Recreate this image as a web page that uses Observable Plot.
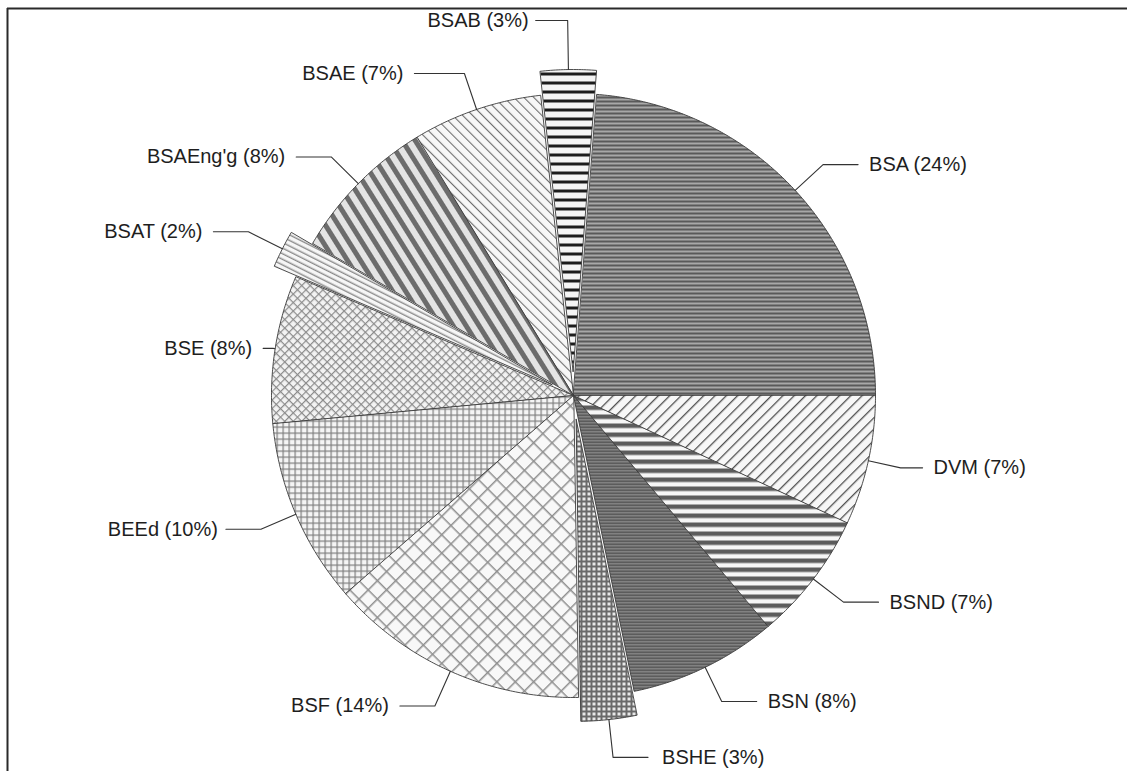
<!DOCTYPE html>
<html>
<head>
<meta charset="utf-8">
<script src="https://cdn.jsdelivr.net/npm/d3@7"></script>
<script src="https://cdn.jsdelivr.net/npm/@observablehq/plot@0.6"></script>
<style>
  html, body { margin: 0; padding: 0; background: #fff; }
  #chart svg { display: block; }
</style>
</head>
<body>
<div id="chart"></div>
<script>
// Degree programs and their share of enrollees (%), in drawing order
const programs = ["BSA", "BSAB", "BSAE", "BSAEng'g", "BSAT", "BSE", "BEEd", "BSF", "BSHE", "BSN", "BSND", "DVM"];
const shares   = [24, 3, 7, 8, 2, 8, 10, 14, 3, 8, 7, 7];
// Slices pulled out of the pie
const exploded = ["BSAB", "BSAT", "BSHE"];

// ---- layout ----
const W = 1127, H = 771;
const cx = 573, cy = 395, R = 302;   // pie centre and radius (px)
const pull = 24;                      // offset of exploded slices
const bend = 38;                      // radial length of leader lines
const tail = 35;                      // horizontal run of leader lines
const gap = 11;                       // space between leader and label
const bendOverride = {"BSAB": 49, "BSE": 2, "DVM": 33};
const tailOverride = {"BSE": 10, "DVM": 22, "BSAE": 50, "BSAB": 32};
const gapOverride = {"BSAB": 7, "BSHE": 14, "BEEd": 8};

// fill pattern for each program
const patternOf = {
  "BSA": "p-bsa", "BSAB": "p-bsab", "BSAE": "p-bsae", "BSAEng'g": "p-bsaeng",
  "BSAT": "p-bsat", "BSE": "p-bse", "BEEd": "p-beed", "BSF": "p-bsf",
  "BSHE": "p-bshe", "BSN": "p-bsn", "BSND": "p-bsnd", "DVM": "p-dvm"
};

// angle in degrees, clockwise from 12 o'clock -> page coordinates
const polar = (ox, oy, r, deg) => {
  const a = deg * Math.PI / 180;
  return [ox + r * Math.sin(a), oy - r * Math.cos(a)];
};

// pie runs counter-clockwise starting at 3 o'clock
const total = d3.sum(shares);
const ends = d3.cumsum(shares);
const slices = programs.map((name, i) => {
  const a0 = 90 - (ends[i] - shares[i]) / total * 360;
  const a1 = 90 - ends[i] / total * 360;
  const mid = (a0 + a1) / 2;
  const [ox, oy] = exploded.includes(name) ? polar(cx, cy, pull, mid) : [cx, cy];
  return {name, share: shares[i], a0, a1, mid, ox, oy};
});

// outline points of each wedge
const wedgePts = [];
for (const s of slices) {
  wedgePts.push({name: s.name, pat: `url(#${patternOf[s.name]})`, x: s.ox, y: s.oy});
  const n = Math.max(2, Math.ceil((s.a0 - s.a1) / 0.5));
  for (let k = 0; k <= n; ++k) {
    const [x, y] = polar(s.ox, s.oy, R, s.a0 - (s.a0 - s.a1) * k / n);
    wedgePts.push({name: s.name, pat: `url(#${patternOf[s.name]})`, x, y});
  }
}

// leader lines and label anchors
const leaderPts = [];
const labels = [];
for (const s of slices) {
  const side = Math.sin(s.mid * Math.PI / 180) >= 0 ? 1 : -1;
  const b = bendOverride[s.name] ?? bend;
  const t = tailOverride[s.name] ?? tail;
  const g = gapOverride[s.name] ?? gap;
  const [x0, y0] = polar(s.ox, s.oy, R, s.mid);
  const [x1, y1] = polar(s.ox, s.oy, R + b, s.mid);
  const x2 = x1 + side * t;
  leaderPts.push({name: s.name, x: x0, y: y0}, {name: s.name, x: x1, y: y1}, {name: s.name, x: x2, y: y1});
  labels.push({text: `${s.name} (${s.share}%)`, x: x2 + side * g, y: y1, side});
}

const font = "'Liberation Sans', Arial, Helvetica, sans-serif";

const svg = Plot.plot({
  width: W,
  height: H,
  margin: 0,
  x: {domain: [0, W], range: [0, W], axis: null},
  y: {domain: [0, H], range: [0, H], axis: null},
  color: {type: "identity"},
  style: {fontFamily: font, background: "#fff"},
  marks: [
    // frame
    Plot.ruleY([8], {x1: 7, x2: W, stroke: "#2a2a2a", strokeWidth: 2}),
    Plot.ruleX([7], {y1: 8, y2: H, stroke: "#2a2a2a", strokeWidth: 2}),
    // wedges
    Plot.line(wedgePts, {x: "x", y: "y", z: "name", fill: "pat", stroke: "#3a3a3a",
      strokeWidth: 0.9, curve: "linear-closed"}),
    // leaders
    Plot.line(leaderPts, {x: "x", y: "y", z: "name", stroke: "#333", strokeWidth: 1.1}),
    // labels
    Plot.text(labels.filter(d => d.side > 0), {x: "x", y: "y", text: "text", textAnchor: "start",
      fontSize: 20, fill: "#1e1e1e"}),
    Plot.text(labels.filter(d => d.side < 0), {x: "x", y: "y", text: "text", textAnchor: "end",
      fontSize: 20, fill: "#1e1e1e"})
  ]
});

// hatch patterns used by the wedges
function stripes(id, period, lineW, color, bg, angle) {
  return `<pattern id="${id}" patternUnits="userSpaceOnUse" width="${period}" height="${period}" patternTransform="rotate(${angle})">
    <rect width="${period}" height="${period}" fill="${bg}"/>
    <rect x="0" y="0" width="${lineW}" height="${period}" fill="${color}"/>
  </pattern>`;
}
function grid(id, period, lineW, color, bg, angle) {
  return `<pattern id="${id}" patternUnits="userSpaceOnUse" width="${period}" height="${period}" patternTransform="rotate(${angle})">
    <rect width="${period}" height="${period}" fill="${bg}"/>
    <rect x="0" y="0" width="${lineW}" height="${period}" fill="${color}"/>
    <rect x="0" y="0" width="${period}" height="${lineW}" fill="${color}"/>
  </pattern>`;
}
const batMid = slices.find(s => s.name === "BSAT").mid;
const defs = document.createElementNS("http://www.w3.org/2000/svg", "defs");
defs.innerHTML = [
  stripes("p-bsa", 4, 2, "#5a5a5a", "#a8a8a8", 90),
  stripes("p-bsab", 9, 3, "#1c1c1c", "#f4f4f4", 90),
  stripes("p-bsae", 7, 1.1, "#6e6e6e", "#f7f7f7", -45),
  stripes("p-bsaeng", 11, 5, "#6c6c6c", "#e4e4e4", -32),
  stripes("p-bsat", 5, 1.4, "#8a8a8a", "#f6f6f6", batMid),
  grid("p-bse", 6, 1.2, "#8c8c8c", "#f3f3f3", 45),
  grid("p-beed", 6, 1.2, "#7e7e7e", "#f5f5f5", 0),
  grid("p-bsf", 13, 1.5, "#8f8f8f", "#f8f8f8", 45),
  grid("p-bshe", 5, 2, "#6a6a6a", "#e8e8e8", 0),
  stripes("p-bsn", 3, 1.5, "#4a4a4a", "#939393", 90),
  stripes("p-bsnd", 9, 4.5, "#5c5c5c", "#f6f6f6", 90),
  stripes("p-dvm", 8, 1.3, "#505050", "#f7f7f7", 45)
].join("\n");
svg.insertBefore(defs, svg.firstChild);

document.getElementById("chart").appendChild(svg);
</script>
</body>
</html>
